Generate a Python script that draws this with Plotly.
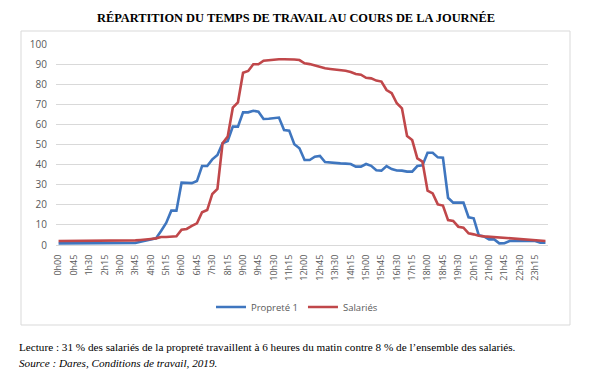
import plotly.graph_objects as go

title_text = "RÉPARTITION DU TEMPS DE TRAVAIL AU COURS DE LA JOURNÉE"
caption_1 = "Lecture : 31 % des salariés de la propreté travaillent à 6 heures du matin contre 8 % de l’ensemble des salariés."
caption_2 = "<i>Source : Dares, Conditions de travail, 2019.</i>"

categories = [
    "0h00", "0h15", "0h30", "0h45", "1h00", "1h15", "1h30", "1h45",
    "2h00", "2h15", "2h30", "2h45", "3h00", "3h15", "3h30", "3h45",
    "4h00", "4h15", "4h30", "4h45", "5h00", "5h15", "5h30", "5h45",
    "6h00", "6h15", "6h30", "6h45", "7h00", "7h15", "7h30", "7h45",
    "8h00", "8h15", "8h30", "8h45", "9h00", "9h15", "9h30", "9h45",
    "10h00", "10h15", "10h30", "10h45", "11h00", "11h15", "11h30", "11h45",
    "12h00", "12h15", "12h30", "12h45", "13h00", "13h15", "13h30", "13h45",
    "14h00", "14h15", "14h30", "14h45", "15h00", "15h15", "15h30", "15h45",
    "16h00", "16h15", "16h30", "16h45", "17h00", "17h15", "17h30", "17h45",
    "18h00", "18h15", "18h30", "18h45", "19h00", "19h15", "19h30", "19h45",
    "20h00", "20h15", "20h30", "20h45", "21h00", "21h15", "21h30", "21h45",
    "22h00", "22h15", "22h30", "22h45", "23h00", "23h15", "23h30", "23h45",
]

tick_labels = [
    "0h00", "0h45", "1h30", "2h15", "3h00", "3h45", "4h30", "5h15",
    "6h00", "6h45", "7h30", "8h15", "9h00", "9h45", "10h30", "11h15",
    "12h00", "12h45", "13h30", "14h15", "15h00", "15h45", "16h30", "17h15",
    "18h00", "18h45", "19h30", "20h15", "21h00", "21h45", "22h30", "23h15",
]

proprete = [
    0.8, 0.8, 0.8, 0.8, 0.8, 0.8, 0.8, 0.8,
    0.8, 0.8, 0.9, 0.9, 0.9, 0.9, 0.9, 1.0,
    1.6, 2.2, 2.6, 3.3, 7.0, 11.0, 17.1, 17.1,
    31.0, 31.0, 30.8, 31.8, 39.3, 39.3, 42.6, 44.8,
    50.6, 51.7, 58.9, 58.9, 66.0, 66.0, 66.8, 66.3,
    62.7, 62.8, 63.2, 63.4, 57.2, 56.9, 50.1, 48.1,
    42.3, 42.3, 43.9, 44.3, 41.3, 41.0, 40.6, 40.6,
    40.5, 40.3, 39.0, 39.0, 40.3, 39.4, 37.2, 37.0,
    39.3, 37.8, 37.1, 37.0, 36.5, 36.5, 39.3, 39.6,
    45.9, 45.9, 43.6, 43.4, 23.5, 21.1, 21.1, 21.1,
    13.8, 13.3, 4.8, 4.3, 2.8, 2.8, 0.8, 0.9,
    2.0, 2.0, 2.0, 2.0, 2.0, 2.0, 1.1, 1.1,
]

salaries = [
    2.0, 2.0, 2.0, 2.0, 2.0, 2.0, 2.0, 2.0,
    2.0, 2.0, 2.0, 2.0, 2.0, 2.1, 2.1, 2.3,
    2.5, 2.6, 3.0, 3.3, 4.0, 4.0, 4.1, 4.3,
    7.6, 8.0, 9.5, 10.8, 16.3, 17.4, 25.4, 27.9,
    50.6, 53.9, 68.3, 71.0, 85.7, 86.6, 89.9, 89.9,
    91.7, 92.0, 92.2, 92.4, 92.4, 92.4, 92.3, 92.0,
    90.4, 90.0, 89.2, 88.7, 87.9, 87.6, 87.4, 87.1,
    86.7, 86.1, 85.1, 84.7, 83.2, 82.9, 81.8, 81.3,
    77.1, 75.5, 70.5, 68.0, 54.2, 52.2, 43.1, 41.5,
    27.0, 25.7, 20.2, 19.6, 12.4, 12.0, 9.1, 8.6,
    5.8, 5.3, 4.6, 4.3, 4.1, 3.8, 3.5, 3.3,
    3.2, 3.0, 2.8, 2.6, 2.5, 2.3, 2.1, 2.0,
]

W, H = 592, 378
L, R, T, B = 56, 44, 44, 133
pw = W - L - R
ph = H - T - B


def px_to_paper_x(px):
    return (px - L) / pw


def px_to_paper_y(py):
    return (H - B - py) / ph


fig = go.Figure()
fig.add_trace(go.Scatter(
    x=categories, y=proprete, mode="lines", name="Propreté 1",
    line=dict(color="#3F76BF", width=2.6),
))
fig.add_trace(go.Scatter(
    x=categories, y=salaries, mode="lines", name="Salariés",
    line=dict(color="#C0474A", width=2.6),
))

fig.update_layout(
    width=W, height=H,
    margin=dict(l=L, r=R, t=T, b=B, pad=0),
    paper_bgcolor="white", plot_bgcolor="white",
    title=dict(
        text="<b>" + title_text + "</b>",
        x=0.5, xanchor="center", xref="container",
        y=1 - 18 / H, yanchor="middle", yref="container",
        font=dict(family="Liberation Serif", size=12.4, color="black"),
    ),
    showlegend=True,
    legend=dict(
        orientation="h", x=px_to_paper_x(297), xanchor="center",
        y=px_to_paper_y(307), yanchor="middle",
        font=dict(family="Open Sans", size=9.5, color="#595959"),
        itemwidth=30, bgcolor="rgba(0,0,0,0)",
    ),
    font=dict(family="Open Sans", color="#595959"),
)

fig.update_xaxes(
    type="category", range=[-0.5, 95.5],
    tickmode="array", tickvals=tick_labels, ticktext=tick_labels,
    tickangle=-90, tickfont=dict(family="Open Sans", size=9, color="#595959"),
    showgrid=False, showline=True, linecolor="#d9d9d9", linewidth=1,
    ticks="outside", ticklen=5, tickcolor="rgba(0,0,0,0)",
    zeroline=False,
)
fig.update_yaxes(
    range=[0, 100], dtick=10, showgrid=True, gridcolor="#d9d9d9", gridwidth=1,
    tickfont=dict(family="Open Sans", size=10, color="#595959"),
    ticks="outside", ticklen=6, tickcolor="rgba(0,0,0,0)",
    zeroline=False, showline=False,
)

fig.add_shape(
    type="rect", xref="paper", yref="paper",
    x0=px_to_paper_x(21), x1=px_to_paper_x(570),
    y0=px_to_paper_y(325), y1=px_to_paper_y(31),
    line=dict(color="#d9d9d9", width=1), fillcolor="rgba(0,0,0,0)", layer="below",
)

fig.add_annotation(
    text=caption_1, xref="paper", yref="paper",
    x=px_to_paper_x(17), xanchor="left", y=px_to_paper_y(347), yanchor="middle",
    showarrow=False, font=dict(family="Liberation Serif", size=11.2, color="black"),
)
fig.add_annotation(
    text=caption_2, xref="paper", yref="paper",
    x=px_to_paper_x(17), xanchor="left", y=px_to_paper_y(363), yanchor="middle",
    showarrow=False, font=dict(family="Liberation Serif", size=11.2, color="black"),
)

fig.write_html(
    "out.html",
    config={"displayModeBar": False},
    post_script="document.body.style.margin='0';",
)
